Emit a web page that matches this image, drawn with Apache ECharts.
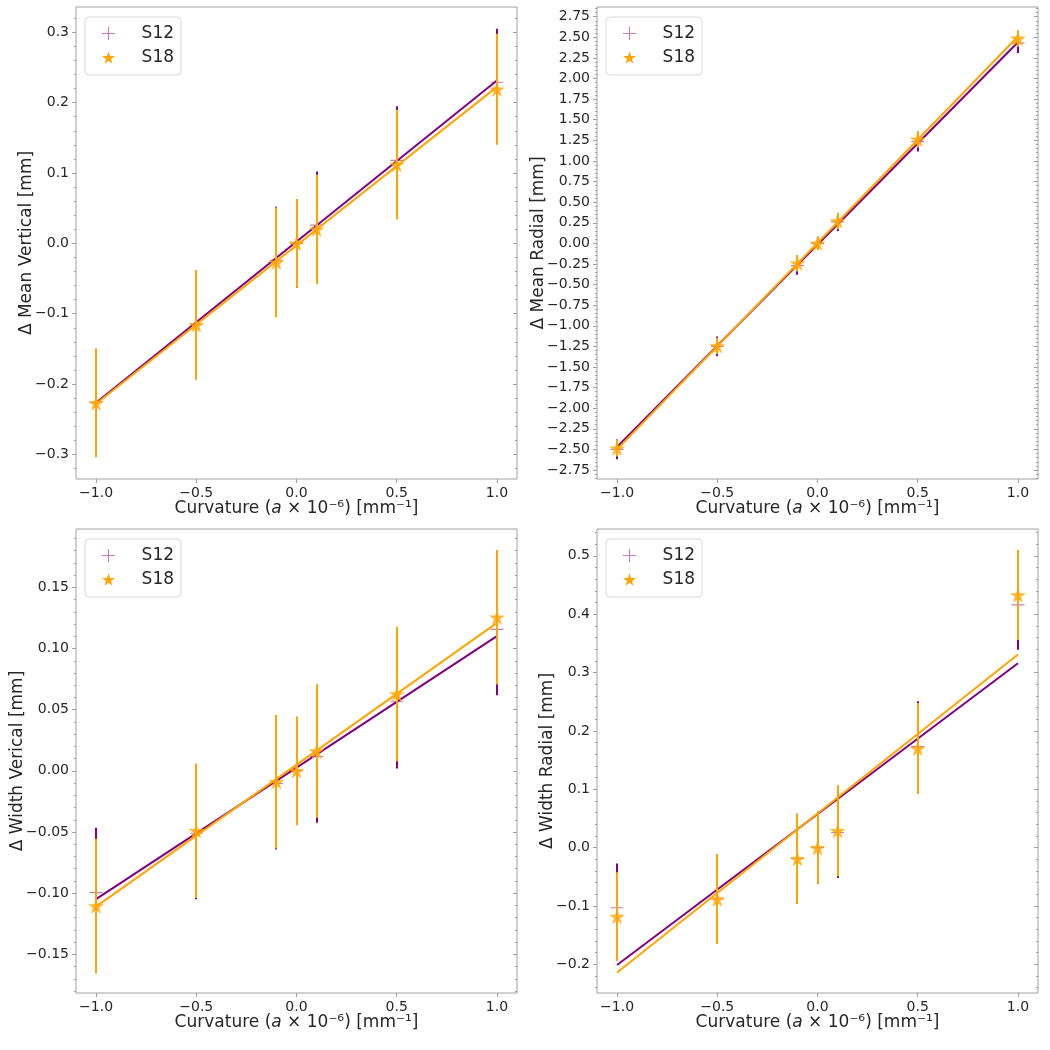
<!DOCTYPE html>
<html>
<head>
    <meta charset="utf-8">
    <title>curvature</title>
    <script src="https://cdn.jsdelivr.net/npm/echarts@6/dist/echarts.min.js"></script>
    <style>
        html, body { margin: 0; padding: 0; background: #fff; }
        #chart { width: 1050px; height: 1050px; }
    </style>
</head>
<body>
<div id="chart"></div>
<script>
    // curvature values (x) shared by all panels
    var curv = [-1, -0.5, -0.1, 0, 0.1, 0.5, 1];
    var xTicks = [-1, -0.5, 0, 0.5, 1];

    // panel 1: mean vertical
    var mv12 = [-0.226, -0.115, -0.024, 0, 0.026, 0.118, 0.229];
    var mv12Err = [0.076, 0.077, 0.076, 0.063, 0.076, 0.077, 0.076];
    var mv18 = [-0.227, -0.116, -0.027, 0, 0.020, 0.112, 0.219];
    var mv18Err = [0.077, 0.078, 0.078, 0.063, 0.078, 0.078, 0.079];
    var mvFit12 = [-0.2265, 0.2314];
    var mvFit18 = [-0.228, 0.2224];
    var mvTicks = [-0.3, -0.2, -0.1, 0, 0.1, 0.2, 0.3];

    // panel 2: mean radial
    var mr12 = [-2.50, -1.25, -0.27, 0, 0.26, 1.234, 2.43];
    var mr12Err = [0.12, 0.12, 0.11, 0.08, 0.11, 0.12, 0.12];
    var mr18 = [-2.486, -1.245, -0.242, 0, 0.271, 1.262, 2.487];
    var mr18Err = [0.10, 0.10, 0.10, 0.08, 0.10, 0.10, 0.10];
    var mrFit12 = [-2.47, 2.44];
    var mrFit18 = [-2.50, 2.51];
    var mrTicks = [-2.75, -2.5, -2.25, -2, -1.75, -1.5, -1.25, -1, -0.75, -0.5, -0.25, 0,
        0.25, 0.5, 0.75, 1, 1.25, 1.5, 1.75, 2, 2.25, 2.5, 2.75];

    // panel 3: width vertical
    var wv12 = [-0.0996, -0.051, -0.0102, 0, 0.0116, 0.0565, 0.1157];
    var wv12Err = [0.053, 0.054, 0.054, 0.044, 0.054, 0.0545, 0.054];
    var wv18 = [-0.1105, -0.049, -0.0089, 0, 0.0162, 0.0628, 0.1255];
    var wv18Err = [0.055, 0.055, 0.0545, 0.0445, 0.0545, 0.055, 0.055];
    var wvFit12 = [-0.1048, 0.1102];
    var wvFit18 = [-0.111, 0.121];
    var wvTicks = [-0.15, -0.1, -0.05, 0, 0.05, 0.1, 0.15];

    // panel 4: width radial
    var wr12 = [-0.103, -0.088, -0.019, 0, 0.026, 0.173, 0.416];
    var wr12Err = [0.076, 0.077, 0.077, 0.062, 0.078, 0.078, 0.077];
    var wr18 = [-0.118, -0.088, -0.019, 0, 0.029, 0.170, 0.433];
    var wr18Err = [0.076, 0.077, 0.077, 0.062, 0.078, 0.078, 0.077];
    var wrFit12 = [-0.201, 0.316];
    var wrFit18 = [-0.214, 0.331];
    var wrTicks = [-0.2, -0.1, 0, 0.1, 0.2, 0.3, 0.4, 0.5];

    var PURPLE = '#800080';
    var ORANGE = '#ffa500';
    var SPINE = '#a0a0a0';
    var TEXT = '#262626';
    var FONT = 'DejaVu Sans';

    var plusPath = 'path://M-0.09,-1 L0.09,-1 L0.09,-0.09 L1,-0.09 L1,0.09 L0.09,0.09 L0.09,1 L-0.09,1 L-0.09,0.09 L-1,0.09 L-1,-0.09 L-0.09,-0.09 Z';
    var starPath = 'path://M0,-1 L0.2245,-0.309 L0.951,-0.309 L0.363,0.118 L0.588,0.809 L0,0.382 L-0.588,0.809 L-0.363,0.118 L-0.951,-0.309 L-0.2245,-0.309 Z';

    var panels = [
        { grid: [76, 7, 441, 472], ymin: -0.335, ymax: 0.336, ticks: mvTicks, dec: 1, sub: 0.02,
          name: 'Δ Mean Vertical [mm]', gap: 41,
          a: mv12, ae: mv12Err, b: mv18, be: mv18Err, fa: mvFit12, fb: mvFit18 },
        { grid: [597, 7, 441, 472], ymin: -2.859, ymax: 2.868, ticks: mrTicks, dec: 2, sub: 0.05,
          name: 'Δ Mean Radial [mm]', gap: 50,
          a: mr12, ae: mr12Err, b: mr18, be: mr18Err, fa: mrFit12, fb: mrFit18 },
        { grid: [76, 529, 441, 464], ymin: -0.1816, ymax: 0.1977, ticks: wvTicks, dec: 2, sub: 0.01,
          name: 'Δ Width Verical [mm]', gap: 50,
          a: wv12, ae: wv12Err, b: wv18, be: wv18Err, fa: wvFit12, fb: wvFit18 },
        { grid: [597, 529, 441, 464], ymin: -0.249, ymax: 0.546, ticks: wrTicks, dec: 1, sub: 0.02,
          name: 'Δ Width Radial [mm]', gap: 41,
          a: wr12, ae: wr12Err, b: wr18, be: wr18Err, fa: wrFit12, fb: wrFit18 }
    ];

    function fmt(v, d) {
        var s = (Math.abs(v) < 1e-9 ? 0 : v).toFixed(d);
        return s.replace('-', '\u2212');
    }

    // minor tick positions between the axis limits
    function minors(min, max, step) {
        var out = [];
        var start = Math.ceil(min / step - 1e-9);
        for (var k = start; k * step <= max + 1e-9; k++) {
            out.push(+(k * step).toFixed(6));
        }
        return out;
    }

    function errSeries(i, ys, es, color, z) {
        return {
            type: 'custom',
            name: 'err' + i + color,
            xAxisIndex: i,
            yAxisIndex: i * 4,
            silent: true,
            z: z,
            data: curv.map(function (x, k) { return [x, ys[k] - es[k], ys[k] + es[k]]; }),
            encode: { x: 0, y: [1, 2] },
            renderItem: function (params, api) {
                var p1 = api.coord([api.value(0), api.value(1)]);
                var p2 = api.coord([api.value(0), api.value(2)]);
                var px = Math.round(p1[0]);
                return {
                    type: 'line',
                    shape: { x1: px, y1: p1[1], x2: px, y2: p2[1] },
                    style: { stroke: color, lineWidth: 2 }
                };
            }
        };
    }

    var grids = [], xAxes = [], yAxes = [], series = [], legends = [];

    panels.forEach(function (p, i) {
        grids.push({
            left: p.grid[0], top: p.grid[1], width: p.grid[2], height: p.grid[3],
            show: true, borderColor: SPINE, borderWidth: 1, backgroundColor: '#fff'
        });
        xAxes.push({
            type: 'value', gridIndex: i, min: -1.1, max: 1.1,
            axisLine: { show: false, onZero: false },
            splitLine: { show: false },
            axisTick: { show: true, length: 4, lineStyle: { color: SPINE }, customValues: xTicks },
            axisLabel: {
                color: TEXT, fontSize: 14, fontFamily: FONT, margin: 7, customValues: xTicks,
                formatter: function (v) { return fmt(v, 1); }
            },
            name: '{n|Curvature (}{i|a}{n| × 10⁻⁶) [mm⁻¹]}',
            nameLocation: 'middle', nameGap: 21, nameMoveOverlap: false,
            nameTextStyle: {
                rich: {
                    n: { fontSize: 17, fontFamily: FONT, color: TEXT },
                    i: { fontSize: 17, fontFamily: FONT, color: TEXT, fontStyle: 'italic' }
                }
            }
        });
        var minorVals = minors(p.ymin, p.ymax, p.sub);
        var base = { type: 'value', gridIndex: i, min: p.ymin, max: p.ymax,
            splitLine: { show: false }, axisLine: { show: false, onZero: false } };
        // left major with labels
        yAxes.push(Object.assign({}, base, {
            position: 'left',
            axisTick: { show: true, length: 4, lineStyle: { color: SPINE }, customValues: p.ticks },
            axisLabel: {
                color: TEXT, fontSize: 14, fontFamily: FONT, margin: 7, customValues: p.ticks,
                formatter: function (v) { return fmt(v, p.dec); }
            },
            name: p.name, nameLocation: 'middle', nameGap: p.gap, nameMoveOverlap: false,
            nameTextStyle: { fontSize: 17, fontFamily: FONT, color: TEXT }
        }));
        // left minor
        yAxes.push(Object.assign({}, base, {
            position: 'left',
            axisTick: { show: true, length: 2, lineStyle: { color: SPINE }, customValues: minorVals },
            axisLabel: { show: false }
        }));
        // right major, inward
        yAxes.push(Object.assign({}, base, {
            position: 'right',
            axisTick: { show: true, inside: true, length: 4, lineStyle: { color: SPINE }, customValues: p.ticks },
            axisLabel: { show: false }
        }));
        // right minor, inward
        yAxes.push(Object.assign({}, base, {
            position: 'right',
            axisTick: { show: true, inside: true, length: 2, lineStyle: { color: SPINE }, customValues: minorVals },
            axisLabel: { show: false }
        }));

        series.push(errSeries(i, p.a, p.ae, PURPLE, 2));
        series.push({
            type: 'scatter', name: 'S12', xAxisIndex: i, yAxisIndex: i * 4, z: 3,
            symbol: plusPath, symbolSize: 13, symbolKeepAspect: true, silent: true,
            itemStyle: { color: PURPLE, opacity: 0.5 },
            data: curv.map(function (x, k) { return [x, p.a[k]]; })
        });
        series.push({
            type: 'line', name: 'fit12', xAxisIndex: i, yAxisIndex: i * 4, z: 4,
            showSymbol: false, silent: true,
            lineStyle: { color: PURPLE, width: 2 },
            data: [[-1, p.fa[0]], [1, p.fa[1]]]
        });
        series.push(errSeries(i, p.b, p.be, ORANGE, 5));
        series.push({
            type: 'scatter', name: 'S18', xAxisIndex: i, yAxisIndex: i * 4, z: 6,
            symbol: starPath, symbolSize: 16, symbolKeepAspect: true, silent: true,
            itemStyle: { color: ORANGE },
            data: curv.map(function (x, k) { return [x, p.b[k]]; })
        });
        series.push({
            type: 'line', name: 'fit18', xAxisIndex: i, yAxisIndex: i * 4, z: 7,
            showSymbol: false, silent: true,
            lineStyle: { color: ORANGE, width: 2 },
            data: [[-1, p.fb[0]], [1, p.fb[1]]]
        });

        legends.push({
            orient: 'vertical',
            left: p.grid[0] + 9, top: p.grid[1] + 10,
            padding: [8, 7, 9, 17],
            itemWidth: 13, itemHeight: 13, itemGap: 7,
            borderColor: '#d9d9d9', borderWidth: 1, borderRadius: 4,
            backgroundColor: 'rgba(255,255,255,0.8)',
            selectedMode: false,
            formatter: function (name) { return '    ' + name; },
            textStyle: { fontSize: 17, fontFamily: FONT, color: TEXT },
            data: [
                { name: 'S12', icon: plusPath, itemStyle: { color: PURPLE, opacity: 0.5 } },
                { name: 'S18', icon: starPath, itemStyle: { color: ORANGE, opacity: 1 } }
            ]
        });
    });

    var chart = echarts.init(document.getElementById('chart'));
    chart.setOption({
        animation: false,
        backgroundColor: '#fff',
        grid: grids,
        xAxis: xAxes,
        yAxis: yAxes,
        legend: legends,
        series: series
    });
</script>
</body>
</html>
